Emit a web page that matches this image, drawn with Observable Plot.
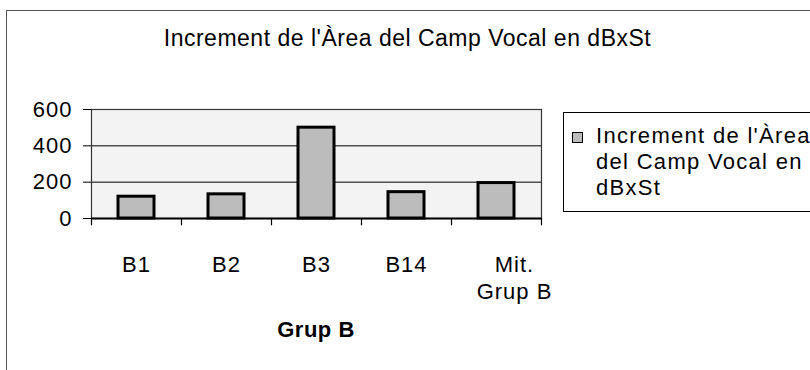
<!DOCTYPE html>
<html><head><meta charset="utf-8">
<script src="https://cdn.jsdelivr.net/npm/d3@7"></script>
<script src="https://cdn.jsdelivr.net/npm/@observablehq/plot@0.6"></script>
<style>
body{margin:0;background:#fff;overflow:hidden;}
#wrap{position:relative;width:810px;height:370px;overflow:hidden;font-family:Arial,"Liberation Sans",sans-serif;color:#000;}
#outer{position:absolute;left:6px;top:10px;width:900px;height:500px;border:1px solid #555;}
#chart{position:absolute;left:0;top:0;}
#title{position:absolute;left:0;width:815px;top:27px;text-align:center;font-size:23px;line-height:23px;letter-spacing:0.5px;white-space:nowrap;}
#legend{position:absolute;left:563px;top:112px;width:300px;height:98px;border:1px solid #000;background:#fff;}
#swatch{position:absolute;left:572px;top:132px;width:9px;height:9px;border:1px solid #000;background:#bcbcbc;}
#legtext{position:absolute;left:596px;top:123px;width:228px;font-size:22px;line-height:26px;letter-spacing:1.3px;}
#xtitle{position:absolute;left:216px;width:200px;top:319px;text-align:center;font-size:22px;line-height:22px;font-weight:bold;letter-spacing:0.5px;}
svg text{letter-spacing:1px;}
</style>
</head><body>
<div id="wrap">
  <div id="outer"></div>
  <div id="chart"></div>
  <div id="title"></div>
  <div id="legend"></div>
  <div id="swatch"></div>
  <div id="legtext"></div>
  <div id="xtitle"></div>
</div>
<script>
const chartTitle = "Increment de l'Àrea del Camp Vocal en dBxSt";
const seriesName = "Increment de l'Àrea del Camp Vocal en dBxSt";
const xAxisTitle = "Grup B";
const categories = ["B1", "B2", "B3", "B14", "Mit.\nGrup B"];
const values = [120, 133, 500, 145, 195];
const yTicks = [0, 200, 400, 600];

const data = categories.map((c, i) => ({cat: c, value: values[i]}));

const plot = Plot.plot({
  width: 810,
  height: 370,
  marginLeft: 91,
  marginRight: 269,
  marginTop: 109,
  marginBottom: 152,
  style: {fontFamily: "Arial, 'Liberation Sans', sans-serif", fontSize: "22px", background: "transparent", color: "#000"},
  x: {domain: categories, paddingInner: 0.6, paddingOuter: 0.3, label: null},
  y: {domain: [0, 600], label: null},
  marks: [
    Plot.frame({fill: "#f3f3f3", stroke: "none"}),
    Plot.gridY(yTicks, {stroke: "#000", strokeOpacity: 1, strokeWidth: 1}),
    Plot.barY(data, {x: "cat", y: "value", fill: "#bcbcbc", stroke: "#000", strokeWidth: 3}),
    Plot.frame({stroke: "#333", strokeWidth: 1.2}),
    Plot.ruleY([0], {stroke: "#000", strokeWidth: 2}),
    Plot.ruleX(categories, {x: d => d, dx: -45, y1: 0, y2: -40, stroke: "#000", strokeWidth: 1.2}),
    Plot.ruleX(categories.slice(-1), {x: d => d, dx: 45, y1: 0, y2: -40, stroke: "#000", strokeWidth: 1.2}),
    Plot.axisY({ticks: yTicks, tickSize: 8, tickPadding: 11, fontSize: 22, label: null, stroke: "#000"}),
    Plot.axisX({ticks: categories.slice(0, -1), tickSize: 0, tickPadding: 34, fontSize: 22, lineHeight: 1.23, label: null}),
    Plot.axisX({ticks: categories.slice(-1), tickSize: 0, tickPadding: 34, fontSize: 22, lineHeight: 1.23, label: null, dx: 18})
  ]
});
document.getElementById("chart").appendChild(plot);
document.getElementById("title").textContent = chartTitle;
document.getElementById("legtext").textContent = seriesName;
document.getElementById("xtitle").textContent = xAxisTitle;
</script>
</body></html>
